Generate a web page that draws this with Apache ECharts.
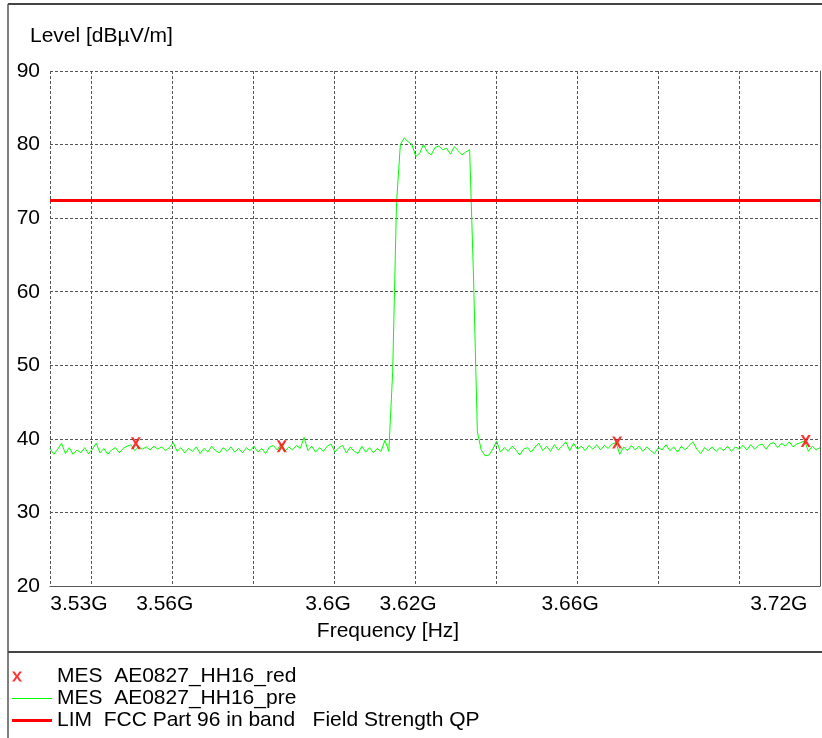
<!DOCTYPE html>
<html><head><meta charset="utf-8">
<script src="https://cdn.jsdelivr.net/npm/echarts@6/dist/echarts.min.js"></script>
<style>html,body{margin:0;padding:0;background:#fff}#c{width:822px;height:738px}</style>
</head><body><div id="c"></div>
<script>
// ---- data ----
const freqStartMHz = 3524;
const freqStopMHz = 3724;
const freqStepMHz = 1;
// measured trace (dBµV/m), one value per MHz from 3524 to 3724
const traceLevels = [
  38.7, 37.9, 38.6, 39.4, 38.0, 38.8, 37.9, 38.5, 38.1, 38.8,
  38.0, 38.6, 39.4, 38.1, 38.7, 37.9, 38.5, 38.8, 38.1, 38.7,
  39.0, 39.2, 38.4, 38.9, 38.6, 38.9, 38.5, 39.0, 38.6, 38.9,
  38.4, 38.8, 39.5, 38.3, 38.8, 38.1, 38.7, 38.3, 38.9, 38.0,
  38.7, 38.2, 39.0, 38.4, 38.1, 38.8, 38.3, 38.9, 38.2, 38.7,
  38.1, 38.8, 38.4, 39.0, 38.2, 38.7, 38.0, 38.9, 39.1, 38.5,
  39.3, 38.3, 38.9, 38.5, 39.1, 38.7, 40.2, 38.4, 39.0, 38.2,
  38.8, 38.3, 39.0, 39.3, 38.2, 38.8, 39.1, 38.1, 38.9, 38.3,
  38.0, 39.0, 38.2, 38.8, 38.1, 38.7, 38.3, 39.8,
  38.3, 49.0, 72.0, 80.0, 80.9, 80.4, 80.0, 78.4, 78.8, 80.0,
  79.0, 78.6, 79.6, 79.8, 79.3, 79.5, 78.7, 79.7, 79.2, 78.6,
  79.0, 79.3, 62.0, 41.0, 38.5, 37.7,
  37.8, 38.6, 39.7, 38.2, 38.8, 38.3, 39.0, 38.5, 37.8, 38.6,
  38.8, 38.2, 38.9, 39.4, 38.4, 39.0, 38.3, 39.2, 38.5, 39.0,
  39.6, 38.4, 39.4, 38.6, 39.0, 38.4, 39.1, 38.6, 39.2, 38.5,
  39.1, 38.7, 39.3, 39.5, 37.9, 38.9, 38.4, 39.1, 38.5, 39.0,
  38.3, 38.9, 38.4, 38.0, 38.8, 38.5, 39.2, 38.4, 38.9, 38.2,
  39.0, 38.5, 39.1, 39.6, 38.6, 38.0, 38.8, 38.4, 38.9, 38.3,
  38.8, 38.4, 39.0, 38.3, 38.9, 38.6, 39.1, 38.5, 39.2, 38.6,
  39.1, 39.3, 38.6, 39.3, 39.5, 38.8, 39.4, 39.0, 39.6, 38.9,
  39.3, 39.5, 39.7, 38.3, 39.0, 38.5, 38.8
];
const markerFreqsMHz = [3546.3, 3584.2, 3671.3, 3720.3];
const markerLevels = [39.4, 39.0, 39.5, 39.7];
const limitFreqsMHz = [3524, 3724];
const limitLevels = [72.4, 72.4];
const xLabelValuesMHz = [3531.5, 3553.8, 3596.2, 3617.0, 3659.1, 3713.3];
const xLabelTexts = ['3.53G', '3.56G', '3.6G', '3.62G', '3.66G', '3.72G'];
const xGridStepMHz = 21.04;   // grid division width (from the right edge)
const yMin = 20, yMax = 90, yStep = 10;
const seriesNames = ['MES  AE0827_HH16_red', 'MES  AE0827_HH16_pre', 'LIM  FCC Part 96 in band   Field Strength QP'];

// ---- build ----
const font = "'Liberation Sans', Arial, Helvetica, sans-serif";
const FS = 21;
const traceData = traceLevels.map((v, i) => [freqStartMHz + i * freqStepMHz, v]);
const markerData = markerFreqsMHz.map((f, i) => [f, markerLevels[i]]);
const limitData = limitFreqsMHz.map((f, i) => [f, limitLevels[i]]);
const gridLine = { show: true, lineStyle: { color: '#555', width: 1, type: [3, 2] } };
const xMarkPath = 'path://M0,0L2.6,0L5,4L7.4,0L10,0L6.4,6L10,12L7.4,12L5,8L2.6,12L0,12L3.6,6Z';
const xLegendIcon = 'path://M0,1L2.5,1L5,4.5L7.5,1L10,1L6.3,6L10,11L7.5,11L5,7.5L2.5,11L0,11L3.7,6ZM40,0M40,12';
const thinLineIcon = 'path://M0,0M0,5.5L40,5.5L40,6.5L0,6.5ZM40,12';
const thickLineIcon = 'path://M0,0M0,4.5L40,4.5L40,7.5L0,7.5ZM40,12';

const chart = echarts.init(document.getElementById('c'), null, { renderer: 'canvas' });
chart.setOption({
  animation: false,
  backgroundColor: '#fff',
  textStyle: { fontFamily: font },
  title: {
    text: 'Level [dBµV/m]', left: 30, top: 26, padding: 0,
    textStyle: { fontSize: FS, fontWeight: 'normal', color: '#000', fontFamily: font }
  },
  grid: { left: 50, right: 2, top: 71, bottom: 152, containLabel: false },
  xAxis: [{
    type: 'value', min: freqStartMHz, max: freqStopMHz, position: 'bottom',
    axisLine: { show: true, lineStyle: { color: '#555', width: 1 } },
    axisTick: { show: false },
    splitLine: { show: false },
    axisLabel: {
      customValues: xLabelValuesMHz,
      formatter: function (v) {
        let best = 0;
        for (let i = 1; i < xLabelValuesMHz.length; i++) {
          if (Math.abs(xLabelValuesMHz[i] - v) < Math.abs(xLabelValuesMHz[best] - v)) best = i;
        }
        return xLabelTexts[best];
      },
      fontSize: FS, color: '#000', margin: 8, fontFamily: font
    },
    name: 'Frequency [Hz]', nameLocation: 'middle', nameGap: 35,
    nameTextStyle: { fontSize: FS, color: '#000', fontFamily: font, padding: [0, 94, 0, 0] }
  }, {
    type: 'value', position: 'bottom', inverse: true,
    min: 0, max: (freqStopMHz - freqStartMHz) / xGridStepMHz, interval: 1,
    axisLine: { show: false }, axisTick: { show: false }, axisLabel: { show: false },
    splitLine: gridLine
  }],
  yAxis: {
    type: 'value', min: yMin, max: yMax, interval: yStep,
    axisLine: { show: true, lineStyle: { color: '#555', width: 1 } },
    axisTick: { show: false },
    axisLabel: { fontSize: FS, color: '#000', margin: 10, fontFamily: font },
    splitLine: gridLine
  },
  legend: {
    orient: 'vertical', left: 12, top: 666, padding: 0,
    itemWidth: 40, itemHeight: 12, itemGap: 1,
    textStyle: { fontSize: FS, color: '#000', fontFamily: font },
    selectedMode: false,
    data: [
      { name: seriesNames[0], icon: xLegendIcon, itemStyle: { color: '#ff0000' } },
      { name: seriesNames[1], icon: thinLineIcon, itemStyle: { color: '#00ff00' } },
      { name: seriesNames[2], icon: thickLineIcon, itemStyle: { color: '#ff0000' } }
    ]
  },
  graphic: [
    { type: 'line', shape: { x1: 8, y1: 4, x2: 822, y2: 4 }, style: { stroke: '#444', lineWidth: 2 }, silent: true },
    { type: 'line', shape: { x1: 8, y1: 4, x2: 8, y2: 738 }, style: { stroke: '#555', lineWidth: 1.5 }, silent: true },
    { type: 'line', shape: { x1: 8, y1: 652, x2: 822, y2: 652 }, style: { stroke: '#444', lineWidth: 2 }, silent: true }
  ],
  series: [
    {
      name: seriesNames[1], type: 'line', xAxisIndex: 0, data: traceData,
      symbol: 'none', showSymbol: false,
      lineStyle: { color: '#00ff00', width: 1 }, itemStyle: { color: '#00ff00' }, z: 2
    },
    {
      name: seriesNames[2], type: 'line', xAxisIndex: 0, data: limitData,
      symbol: 'none', showSymbol: false,
      lineStyle: { color: '#ff0000', width: 3 }, itemStyle: { color: '#ff0000' }, z: 3
    },
    {
      name: seriesNames[0], type: 'scatter', xAxisIndex: 0, data: markerData,
      symbol: xMarkPath, symbolSize: [10, 12],
      itemStyle: { color: '#ff0000' }, z: 5
    }
  ]
});
</script>
</body></html>
